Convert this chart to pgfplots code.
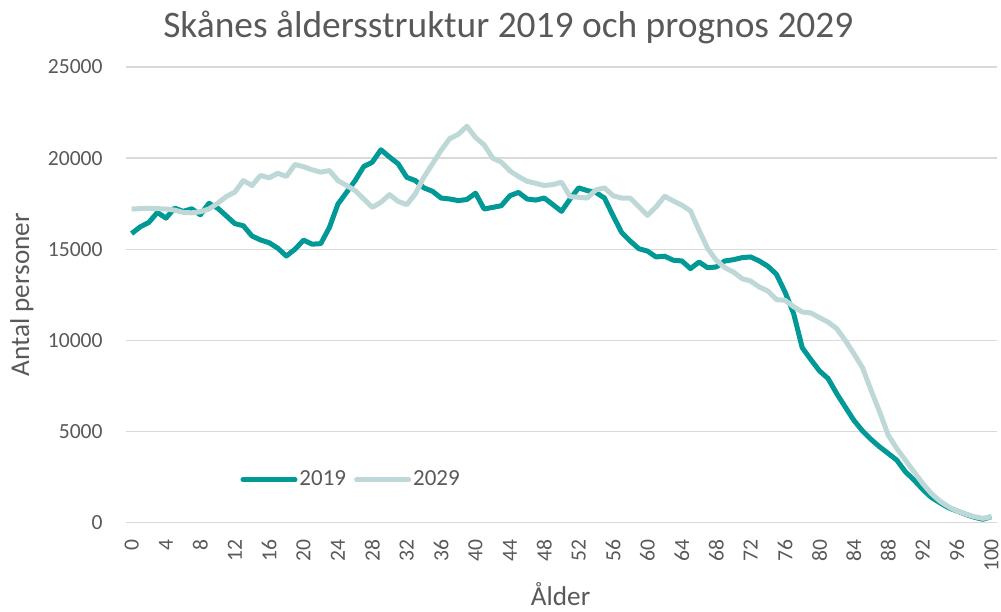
\documentclass[border=0pt]{standalone}
\usepackage{fontspec}
\setmainfont{Carlito}
\usepackage{pgfplots}
\pgfplotsset{compat=1.18}
\definecolor{c2019}{RGB}{0,153,150}
\definecolor{c2029}{RGB}{190,216,216}
\definecolor{textgray}{RGB}{89,89,89}
\definecolor{gridgray}{RGB}{217,217,217}

\pgfplotstableread{
age y2019 y2029
0 15860 17210
1 16230 17230
2 16470 17250
3 17020 17230
4 16710 17210
5 17260 17150
6 17080 17020
7 17220 17000
8 16890 17060
9 17520 17210
10 17260 17520
11 16840 17890
12 16410 18130
13 16290 18770
14 15730 18500
15 15510 19050
16 15360 18920
17 15060 19170
18 14630 19000
19 15000 19650
20 15500 19530
21 15280 19360
22 15310 19230
23 16190 19320
24 17480 18770
25 18120 18500
26 18770 18220
27 19540 17760
28 19780 17300
29 20460 17580
30 20060 18000
31 19690 17630
32 18950 17450
33 18770 18040
34 18370 18960
35 18180 19690
36 17810 20430
37 17760 21070
38 17670 21310
39 17730 21750
40 18080 21130
41 17210 20730
42 17300 20000
43 17390 19780
44 17940 19300
45 18120 18990
46 17760 18730
47 17700 18620
48 17810 18500
49 17450 18550
50 17080 18680
51 17760 17890
52 18370 17850
53 18220 17810
54 18120 18260
55 17810 18370
56 16840 17940
57 15920 17810
58 15450 17800
59 15030 17330
60 14900 16860
61 14580 17330
62 14620 17910
63 14400 17650
64 14360 17420
65 13940 17110
66 14300 16040
67 13990 15040
68 14030 14400
69 14360 13990
70 14430 13750
71 14540 13390
72 14580 13260
73 14360 12930
74 14070 12710
75 13630 12240
76 12650 12200
77 11470 11850
78 9600 11560
79 8950 11510
80 8330 11250
81 7910 11010
82 7090 10650
83 6350 10000
84 5620 9280
85 5040 8510
86 4570 7270
87 4160 6080
88 3800 4800
89 3430 4070
90 2790 3430
91 2340 2790
92 1830 2160
93 1390 1610
94 1100 1190
95 820 880
96 640 640
97 460 480
98 300 330
99 190 240
100 330 330
}\agedata

\begin{document}
\begin{tikzpicture}
\useasboundingbox (-63pt,-44.15pt) rectangle (437.5pt,261.35pt);
\begin{axis}[
    name=ax,
    scale only axis,
    width=435.5pt, height=227.85pt,
    xmin=-0.65, xmax=100.65,
    ymin=0, ymax=25000,
    xtick={0,4,...,100},
    ytick={0,5000,...,25000},
    axis line style={draw=none},
    major tick length=0pt,
    ymajorgrids,
    grid style={gridgray, line width=0.75pt},
    scaled y ticks=false,
    /pgf/number format/assume math mode=true,
    /pgf/number format/1000 sep={},
    tick label style={font=\fontsize{10.8}{12}\selectfont, text=textgray},
    xticklabel style={rotate=90, anchor=east, inner sep=0pt},
    xticklabel shift=8pt,
    yticklabel style={anchor=east, inner sep=0pt},
    yticklabel shift=11.5pt,
    title={Skånes åldersstruktur 2019 och prognos 2029},
    title style={at={(axis description cs:0.439,1)}, anchor=base, yshift=9pt,
      font=\fontsize{18.7}{22}\selectfont, text=textgray},
    xlabel={Ålder},
    xlabel style={at={(axis description cs:0.499,0)}, anchor=base, yshift=-41.5pt,
      font=\fontsize{13.6}{16}\selectfont, text=textgray},
    ylabel={Antal personer},
    ylabel style={at={(axis description cs:-0.1195,0.5)}, anchor=center,
      font=\fontsize{13.6}{16}\selectfont, text=textgray},
    legend style={at={(axis description cs:0.131,0.094)}, anchor=west,
      draw=none, fill=none, inner xsep=0pt,
      nodes={inner xsep=1pt},
      font=\fontsize{11.5}{13}\selectfont, text=textgray,
      /tikz/every even column/.append style={column sep=3pt}},
    legend columns=2,
    legend image code/.code={\draw[#1, line cap=round] (0pt,0pt) -- (26pt,0pt);},
    every axis plot/.append style={line width=2.5pt, line join=round, mark=none},
  ]
  \addplot[c2019] table[x=age, y=y2019] {\agedata};
  \addlegendentry{2019}
  \addplot[c2029] table[x=age, y=y2029] {\agedata};
  \addlegendentry{2029}
\end{axis}
\end{tikzpicture}
\end{document}
